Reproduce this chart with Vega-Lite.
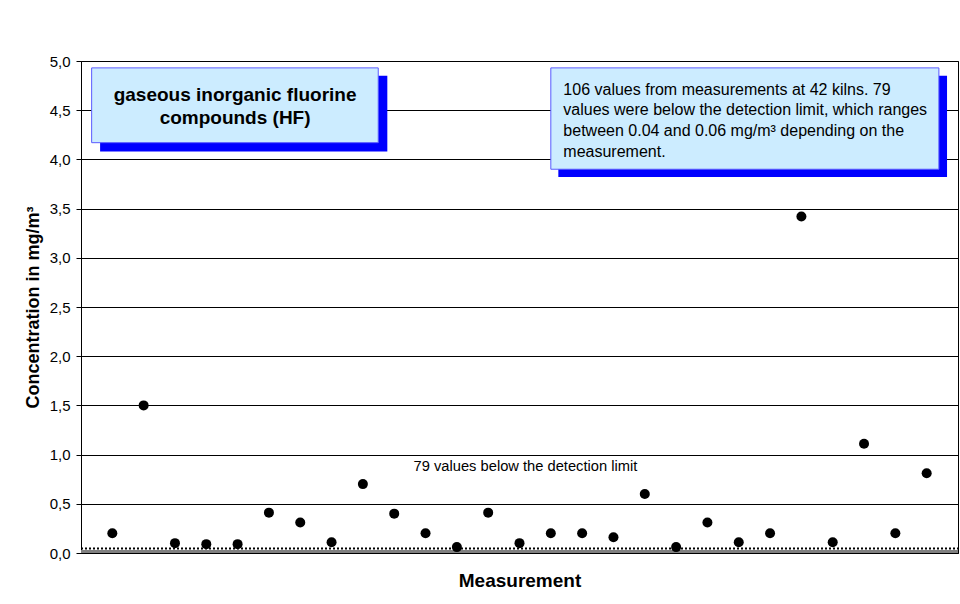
{
  "$schema": "https://vega.github.io/schema/vega-lite/v6.json",
  "width": 877,
  "height": 492,
  "autosize": {"type": "none"},
  "padding": {"left": 81, "top": 61, "right": 2, "bottom": 51},
  "background": "#ffffff",
  "config": {
    "font": "Liberation Sans",
    "view": {"stroke": "#000000", "strokeWidth": 1}
  },
  "data": {
    "values": [
      {"m": 1, "c": 0.2}, {"m": 2, "c": 1.5}, {"m": 3, "c": 0.1}, {"m": 4, "c": 0.09},
      {"m": 5, "c": 0.09}, {"m": 6, "c": 0.41}, {"m": 7, "c": 0.31}, {"m": 8, "c": 0.11},
      {"m": 9, "c": 0.7}, {"m": 10, "c": 0.4}, {"m": 11, "c": 0.2}, {"m": 12, "c": 0.06},
      {"m": 13, "c": 0.41}, {"m": 14, "c": 0.1}, {"m": 15, "c": 0.2}, {"m": 16, "c": 0.2},
      {"m": 17, "c": 0.16}, {"m": 18, "c": 0.6}, {"m": 19, "c": 0.06}, {"m": 20, "c": 0.31},
      {"m": 21, "c": 0.11}, {"m": 22, "c": 0.2}, {"m": 23, "c": 3.42}, {"m": 24, "c": 0.11},
      {"m": 25, "c": 1.11}, {"m": 26, "c": 0.2}, {"m": 27, "c": 0.81}
    ]
  },
  "layer": [
    {
      "data": {"values": [{}]},
      "mark": {"type": "rect", "color": "#808080"},
      "encoding": {
        "x": {
          "datum": 0, "type": "quantitative",
          "scale": {"domain": [0, 28], "nice": false, "zero": false},
          "axis": {
            "title": "Measurement", "labels": false, "ticks": false, "grid": false,
            "domain": true, "domainColor": "#000000", "domainWidth": 1,
            "titleFontSize": 19, "titleFontWeight": "bold", "titleColor": "#000000",
            "titlePadding": 18
          }
        },
        "x2": {"datum": 28},
        "y": {
          "datum": 0, "type": "quantitative",
          "scale": {"domain": [0, 5], "nice": false},
          "axis": {
            "title": "Concentration in mg/m³",
            "values": [0, 0.5, 1, 1.5, 2, 2.5, 3, 3.5, 4, 4.5, 5],
            "labelExpr": "replace(format(datum.value, '.1f'), '.', ',')",
            "grid": true, "gridColor": "#000000", "gridWidth": 1, "gridOpacity": 1,
            "domainColor": "#000000", "tickColor": "#000000", "tickSize": 5,
            "labelFontSize": 15, "labelColor": "#000000", "labelPadding": 6,
            "titleFontSize": 18, "titleFontWeight": "bold", "titleColor": "#000000",
            "titlePadding": 7
          }
        },
        "y2": {"datum": 0.03}
      }
    },
    {
      "data": {"values": [{}]},
      "mark": {"type": "rule", "color": "#000000", "strokeWidth": 2, "strokeDash": [2, 2]},
      "encoding": {
        "x": {"datum": 0, "type": "quantitative"},
        "x2": {"datum": 28},
        "y": {"datum": 0.045, "type": "quantitative"}
      }
    },
    {
      "mark": {"type": "point", "filled": true, "shape": "circle", "size": 100, "color": "#000000", "opacity": 1},
      "encoding": {
        "x": {"field": "m", "type": "quantitative"},
        "y": {"field": "c", "type": "quantitative"}
      }
    },
    {
      "data": {"values": [{}]},
      "mark": {"type": "rect", "color": "#0000ff"},
      "encoding": {
        "x": {"datum": 0.61, "type": "quantitative"},
        "x2": {"datum": 9.78},
        "y": {"datum": 4.08, "type": "quantitative"},
        "y2": {"datum": 4.85}
      }
    },
    {
      "data": {"values": [{}]},
      "mark": {"type": "rect", "fill": "#ccecff", "stroke": "#5a5aff", "strokeWidth": 1},
      "encoding": {
        "x": {"datum": 0.34, "type": "quantitative"},
        "x2": {"datum": 9.49},
        "y": {"datum": 4.17, "type": "quantitative"},
        "y2": {"datum": 4.93}
      }
    },
    {
      "data": {"values": [{}]},
      "mark": {"type": "rect", "color": "#0000ff"},
      "encoding": {
        "x": {"datum": 15.24, "type": "quantitative"},
        "x2": {"datum": 27.65},
        "y": {"datum": 3.82, "type": "quantitative"},
        "y2": {"datum": 4.85}
      }
    },
    {
      "data": {"values": [{}]},
      "mark": {"type": "rect", "fill": "#ccecff", "stroke": "#5a5aff", "strokeWidth": 1},
      "encoding": {
        "x": {"datum": 15.0, "type": "quantitative"},
        "x2": {"datum": 27.39},
        "y": {"datum": 3.9, "type": "quantitative"},
        "y2": {"datum": 4.93}
      }
    },
    {
      "data": {"values": [{}]},
      "mark": {
        "type": "text", "align": "center", "baseline": "middle",
        "fontSize": 19, "fontWeight": "bold", "color": "#000000", "lineHeight": 23,
        "text": ["gaseous inorganic fluorine", "compounds (HF)"]
      },
      "encoding": {
        "x": {"datum": 4.92, "type": "quantitative"},
        "y": {"datum": 4.655, "type": "quantitative"}
      }
    },
    {
      "data": {"values": [{}]},
      "mark": {
        "type": "text", "align": "left", "baseline": "middle",
        "fontSize": 16, "color": "#000000", "lineHeight": 20.6,
        "text": [
          "106 values from measurements at 42 kilns. 79",
          "values were below the detection limit, which ranges",
          "between 0.04 and 0.06 mg/m³ depending on the",
          "measurement."
        ]
      },
      "encoding": {
        "x": {"datum": 15.4, "type": "quantitative"},
        "y": {"datum": 4.708, "type": "quantitative"}
      }
    },
    {
      "data": {"values": [{}]},
      "mark": {
        "type": "text", "align": "center", "baseline": "middle",
        "fontSize": 14.7, "color": "#000000",
        "text": "79 values below the detection limit"
      },
      "encoding": {
        "x": {"datum": 14.19, "type": "quantitative"},
        "y": {"datum": 0.874, "type": "quantitative"}
      }
    }
  ]
}
